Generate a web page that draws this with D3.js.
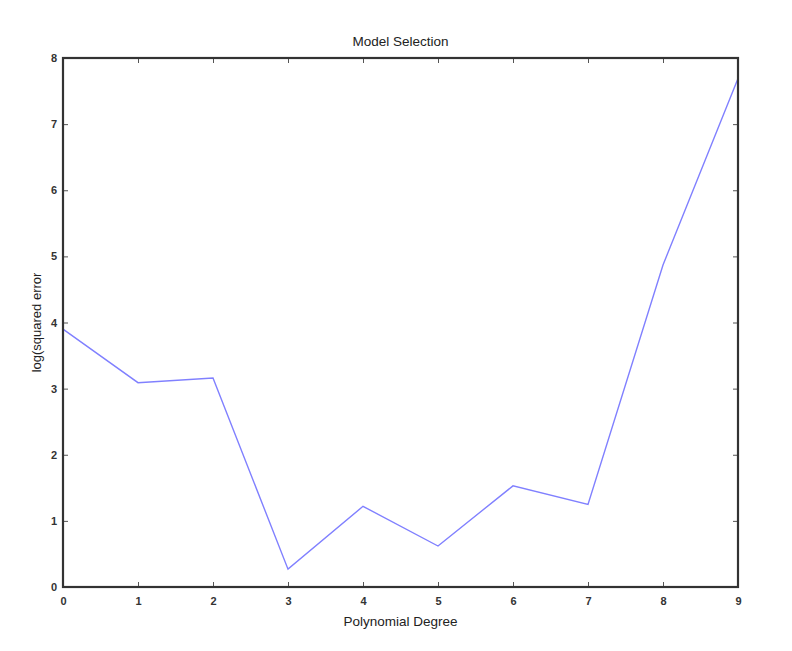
<!DOCTYPE html>
<html>
<head>
<meta charset="utf-8">
<script src="https://cdn.jsdelivr.net/npm/d3@7"></script>
<style>
  body { margin: 0; background: #fff; }
  text { font-family: "Liberation Sans", Arial, sans-serif; fill: #222; }
  .tick text { font-size: 11px; font-weight: bold; fill: #333; }
</style>
</head>
<body>
<div id="chart-area"></div>
<script>
// data
var degrees = [0, 1, 2, 3, 4, 5, 6, 7, 8, 9];
var logError = [3.90, 3.09, 3.16, 0.27, 1.22, 0.62, 1.53, 1.25, 4.87, 7.69];
var yTicks = [0, 1, 2, 3, 4, 5, 6, 7, 8];

var margin = {top: 58, right: 54, bottom: 64, left: 63};
var width = 792 - margin.left - margin.right,
    height = 651 - margin.top - margin.bottom;

var xScale = d3.scaleLinear().domain([0, 9]).range([0, width]);
var yScale = d3.scaleLinear().domain([0, 8]).range([height, 0]);

var svg = d3.select("#chart-area").append("svg")
    .attr("width", 792)
    .attr("height", 651)
    .append("g")
    .attr("transform", "translate(" + margin.left + "," + margin.top + ")");

// axes: ticks point inward, labels outside
var xAxis = d3.axisBottom(xScale).tickValues(degrees).tickSizeInner(-5).tickSizeOuter(0).tickPadding(10);
var yAxis = d3.axisLeft(yScale).tickValues(yTicks).tickSizeInner(-5).tickSizeOuter(0).tickPadding(6);
var xTop = d3.axisTop(xScale).tickValues(degrees).tickSizeInner(-5).tickSizeOuter(0).tickFormat("");
var yRight = d3.axisRight(yScale).tickValues(yTicks).tickSizeInner(-5).tickSizeOuter(0).tickFormat("");

svg.append("g").attr("transform", "translate(0," + height + ")").call(xAxis);
svg.append("g").call(yAxis);
svg.append("g").call(xTop);
svg.append("g").attr("transform", "translate(" + width + ",0)").call(yRight);

svg.selectAll(".domain").remove();
svg.selectAll(".tick line").attr("stroke", "#555").attr("stroke-width", 1);

// data line
var line = d3.line()
    .x(function(d, i) { return xScale(degrees[i]); })
    .y(function(d) { return yScale(d); });

svg.append("path")
    .datum(logError)
    .attr("fill", "none")
    .attr("stroke", "#8080ff")
    .attr("stroke-width", 1.4)
    .attr("d", line);

// frame
svg.append("rect")
    .attr("width", width)
    .attr("height", height)
    .attr("fill", "none")
    .attr("stroke", "#333")
    .attr("stroke-width", 2.2);

// labels
svg.append("text")
    .attr("x", width / 2)
    .attr("y", -12)
    .attr("text-anchor", "middle")
    .style("font-size", "13.5px")
    .style("font-weight", "500")
    .text("Model Selection");

svg.append("text")
    .attr("x", width / 2)
    .attr("y", height + 39)
    .attr("text-anchor", "middle")
    .style("font-size", "13.5px")
    .text("Polynomial Degree");

svg.append("text")
    .attr("transform", "translate(-22," + (height / 2) + ") rotate(-90)")
    .attr("text-anchor", "middle")
    .style("font-size", "13px")
    .text("log(squared error");
</script>
</body>
</html>
